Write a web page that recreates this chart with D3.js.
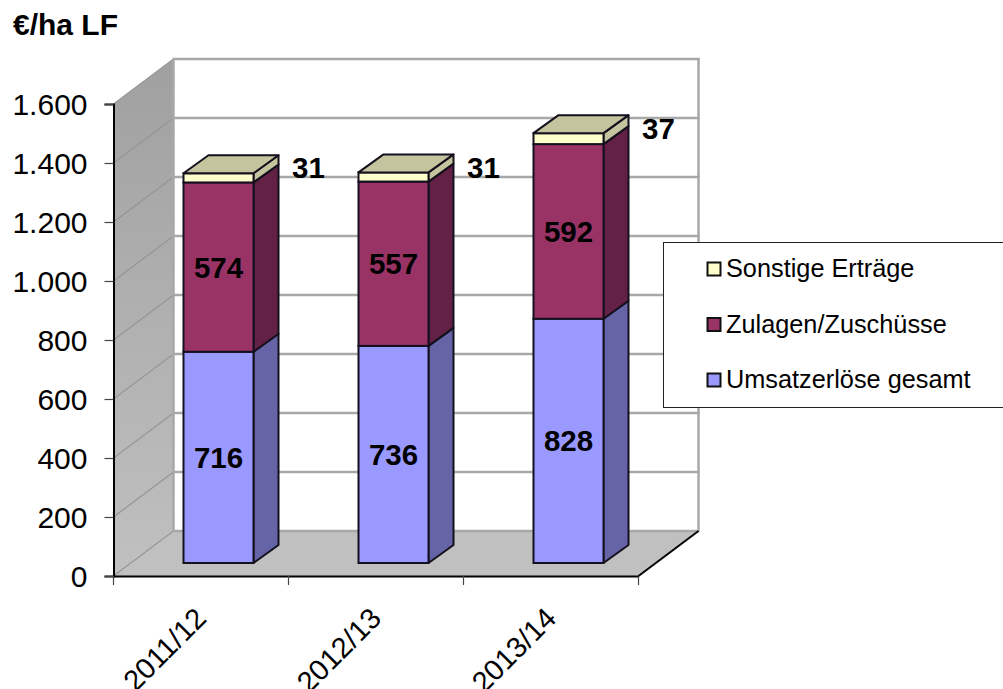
<!DOCTYPE html>
<html><head><meta charset="utf-8">
<style>html,body{margin:0;padding:0;background:#fff}svg{display:block}text{font-family:"Liberation Sans",Arial,sans-serif;fill:#000}</style>
<script src="https://cdn.jsdelivr.net/npm/d3@7/dist/d3.min.js"></script>
</head><body><svg id="c" width="1003" height="689"></svg>
<script>
const categories = ["2011/12","2012/13","2013/14"];
const umsatz = [716,736,828];
const zulagen = [574,557,592];
const sonstige = [31,31,37];
const yTicks = [0,200,400,600,800,1000,1200,1400,1600];
const seriesNames = ["Umsatzerlöse gesamt","Zulagen/Zuschüsse","Sonstige Erträge"];
const seriesValues = [umsatz,zulagen,sonstige];
const frontFill = ["#9999ff","#993366","#ffffcc"];
const sideFill = ["#6464a6","#632145","#c4c49e"];
const topFill = "#c4c49e";

const svg = d3.select("#c");
const fmt = v => String(v).replace(/\B(?=(\d{3})+$)/g,".");
const L=113.5,R=638.5,B=576,T=104, DX=60, DY=-45, bdx=25, bdy=-18, floorUp=13, barOff=70, barW=70;
const x = d3.scaleBand().domain(categories).range([L,R]);
const y = d3.scaleLinear().domain([0,1600]).range([B,T]);
const poly = pts => pts.map(p=>p.join(",")).join(" ");

const defs = svg.append("defs");
const g = defs.append("linearGradient").attr("id","wall").attr("x1",0).attr("y1",0).attr("x2",0).attr("y2",1);
g.append("stop").attr("offset",0).attr("stop-color","#a0a0a0");
g.append("stop").attr("offset",1).attr("stop-color","#c0c0c0");

// walls
svg.append("polygon").attr("points",poly([[L,y(1600)],[L+DX,y(1600)+DY],[L+DX,B+DY],[L,B]])).attr("fill","url(#wall)");
svg.append("polygon").attr("points",poly([[L,B],[R,B],[R+DX,B+DY],[L+DX,B+DY]])).attr("fill","#c0c0c0");
// side-wall diagonals
svg.append("g").selectAll("line").data(yTicks).join("line")
  .attr("x1",L).attr("x2",L+DX).attr("y1",d=>y(d)).attr("y2",d=>y(d)+DY)
  .attr("stroke","#969696").attr("stroke-width",1.2);
// back-wall gridlines
svg.append("g").selectAll("line").data(yTicks).join("line")
  .attr("x1",L+DX).attr("x2",R+DX+1).attr("y1",d=>y(d)+DY).attr("y2",d=>y(d)+DY)
  .attr("stroke","#a8a8a8").attr("stroke-width",2.5);
[L+DX,R+DX].forEach(px=>{
  svg.append("line").attr("x1",px).attr("x2",px).attr("y1",y(1600)+DY-1).attr("y2",B+DY).attr("stroke","#a8a8a8").attr("stroke-width",2.5);
});

// bars
const stroke = {stroke:"#14101e","sw":2};
categories.forEach((c,i)=>{
  const x0=x(c)+barOff, x1=x0+barW;
  let acc=0;
  seriesValues.forEach((vals,s)=>{
    const yb=y(acc)-floorUp, yt=y(acc+vals[i])-floorUp;
    acc+=vals[i];
    svg.append("polygon").attr("points",poly([[x1,yb],[x1+bdx,yb+bdy],[x1+bdx,yt+bdy],[x1,yt]]))
      .attr("fill",sideFill[s]).attr("stroke",stroke.stroke).attr("stroke-width",stroke.sw).attr("stroke-linejoin","round");
    svg.append("rect").attr("x",x0).attr("y",yt).attr("width",barW).attr("height",yb-yt)
      .attr("fill",frontFill[s]).attr("stroke",stroke.stroke).attr("stroke-width",stroke.sw);
    if(s===2){
      svg.append("polygon").attr("points",poly([[x0,yt],[x0+bdx,yt+bdy],[x1+bdx,yt+bdy],[x1,yt]]))
        .attr("fill",topFill).attr("stroke",stroke.stroke).attr("stroke-width",stroke.sw).attr("stroke-linejoin","round");
    }
  });
});

// axes
const yAxis = d3.axisLeft(y).tickValues(yTicks).tickFormat(fmt).tickSize(9).tickPadding(17);
const ay = svg.append("g").attr("transform",`translate(${L},0)`).call(yAxis);
ay.select(".domain").attr("stroke","#000").attr("stroke-width",2);
ay.selectAll(".tick line").attr("stroke","#444").attr("stroke-width",1.2);
ay.selectAll("text").style("font-size","30px").style("font-family",'"Liberation Sans"').attr("fill","#000").attr("dy","0.36em");

const xAxis = d3.axisBottom(x).tickSize(0).tickFormat(d=>d);
const ax = svg.append("g").attr("transform",`translate(0,${B})`).call(xAxis);
ax.select(".domain").attr("stroke","#000").attr("stroke-width",2);
ax.selectAll(".tick text")
  .style("font-size","29px").style("font-family",'"Liberation Sans"').attr("fill","#000")
  .attr("text-anchor","end").attr("dy",0).attr("y",0)
  .attr("transform","translate(7,44) rotate(-45)");
// category boundary ticks
svg.append("g").selectAll("line").data(categories.map(c=>x(c)).concat([x.range()[1]])).join("line")
  .attr("x1",d=>d).attr("x2",d=>d).attr("y1",B).attr("y2",B+9).attr("stroke","#444").attr("stroke-width",1.2);
// floor right edge
svg.append("line").attr("x1",R).attr("y1",B).attr("x2",R+DX).attr("y2",B+DY).attr("stroke","#000").attr("stroke-width",2);

// data labels
categories.forEach((c,i)=>{
  const cx=x(c)+barOff+barW/2;
  let acc=0;
  seriesValues.forEach((vals,s)=>{
    const mid=y(acc+vals[i]/2)-floorUp; acc+=vals[i];
    svg.append("text").text(vals[i])
      .attr("x",s===2?cx+90:cx).attr("y",s===2?mid-10:mid).attr("dy","0.36em")
      .attr("text-anchor","middle").attr("font-weight","bold").attr("font-size",29.5);
  });
});

// title
svg.append("text").text("€/ha LF").attr("x",13).attr("y",35).attr("font-weight","bold").attr("font-size",30);

// legend
svg.append("rect").attr("x",663.5).attr("y",242.5).attr("width",345).attr("height",165).attr("fill","#fff").attr("stroke","#222").attr("stroke-width",1);
const legendOrder=[2,1,0], legY=d3.scalePoint().domain(legendOrder).range([269,380]);
legendOrder.forEach(s=>{
  svg.append("rect").attr("x",707.5).attr("y",legY(s)-6.5).attr("width",13).attr("height",13)
    .attr("fill",frontFill[s]).attr("stroke","#111").attr("stroke-width",2);
  svg.append("text").text(seriesNames[s]).attr("x",726).attr("y",legY(s)-1).attr("dy","0.36em").attr("font-size",25.3);
});
</script></body></html>
